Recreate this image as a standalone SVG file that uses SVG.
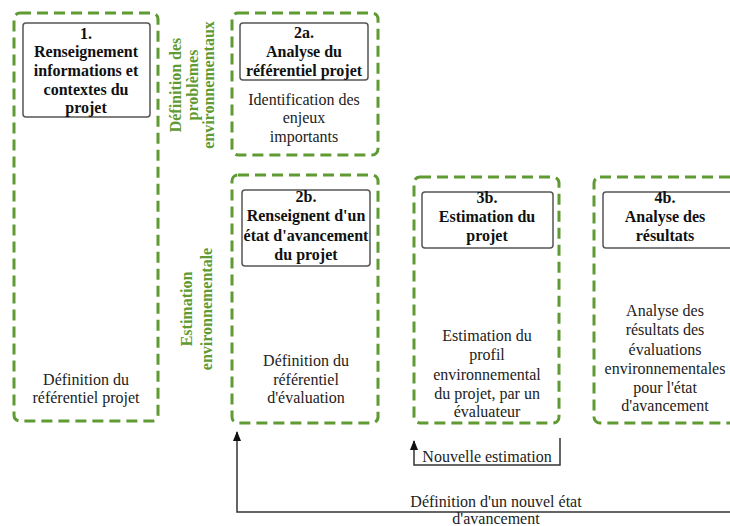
<svg xmlns="http://www.w3.org/2000/svg" width="730" height="526" viewBox="0 0 730 526">
<defs>
<marker id="arr" markerWidth="10" markerHeight="8" refX="9" refY="4" orient="auto" markerUnits="userSpaceOnUse" viewBox="0 0 10 8">
<path d="M0,0 L10,4 L0,8 Z" fill="#111"/>
</marker>
</defs>
<style>
.outer{fill:#fff;stroke:#5f9a32;stroke-width:3;stroke-dasharray:11 6}
.inner{fill:#fff;stroke:#555;stroke-width:1.5}
text{font-family:'Liberation Serif','DejaVu Serif',serif}
.t{font-size:16px;text-anchor:middle;fill:#222}
.b{font-weight:bold;fill:#111}
.g{font-size:16px;font-weight:bold;text-anchor:middle;fill:#5f9a32}
.c{fill:none;stroke:#333;stroke-width:1.5}
</style>
<rect width="730" height="526" fill="#fff"/>

<g id="n1">
<rect class="outer" x="14" y="13" width="144" height="408" rx="6"/>
<rect class="inner" x="23" y="23" width="127" height="94" rx="3"/>
<text class="t b" x="86" y="39">1.</text>
<text class="t b" x="86" y="57">Renseignement</text>
<text class="t b" x="86" y="76">informations et</text>
<text class="t b" x="86" y="95">contextes du</text>
<text class="t b" x="86" y="113">projet</text>
<text class="t" x="86" y="385">Définition du</text>
<text class="t" x="86" y="403">référentiel projet</text>
</g>

<g id="lbl-def">
<text class="g" transform="translate(181,85) rotate(-90)">Définition des</text>
<text class="g" transform="translate(198,85) rotate(-90)">problèmes</text>
<text class="g" transform="translate(214,85) rotate(-90)">environnementaux</text>
</g>

<g id="lbl-est">
<text class="g" transform="translate(192,309) rotate(-90)">Estimation</text>
<text class="g" transform="translate(212,309) rotate(-90)">environnementale</text>
</g>

<g id="n2a">
<rect class="outer" x="232" y="13" width="146" height="142" rx="6"/>
<rect class="inner" x="240" y="23" width="128" height="57" rx="3"/>
<text class="t b" x="304" y="38">2a.</text>
<text class="t b" x="304" y="57">Analyse du</text>
<text class="t b" x="304" y="76">référentiel projet</text>
<text class="t" x="304" y="105">Identification des</text>
<text class="t" x="304" y="123">enjeux</text>
<text class="t" x="304" y="142">importants</text>
</g>

<g id="n2b">
<rect class="outer" x="232" y="175" width="146" height="248" rx="6"/>
<rect class="inner" x="242" y="190" width="128" height="76" rx="3"/>
<text class="t b" x="306" y="202">2b.</text>
<text class="t b" x="306" y="221">Renseignent d'un</text>
<text class="t b" x="306" y="241">état d'avancement</text>
<text class="t b" x="306" y="260">du projet</text>
<text class="t" x="306" y="366">Définition du</text>
<text class="t" x="306" y="385">référentiel</text>
<text class="t" x="306" y="403">d'évaluation</text>
</g>

<g id="n3b">
<rect class="outer" x="414" y="177" width="145" height="246" rx="6"/>
<rect class="inner" x="422" y="192" width="131" height="56" rx="3"/>
<text class="t b" x="487" y="203">3b.</text>
<text class="t b" x="487" y="222">Estimation du</text>
<text class="t b" x="487" y="241">projet</text>
<text class="t" x="487" y="341">Estimation du</text>
<text class="t" x="487" y="360">profil</text>
<text class="t" x="487" y="380">environnemental</text>
<text class="t" x="487" y="399">du projet, par un</text>
<text class="t" x="487" y="417">évaluateur</text>
</g>

<g id="n4b">
<rect class="outer" x="594" y="177" width="150" height="246" rx="6"/>
<rect class="inner" x="603" y="192" width="140" height="56" rx="3"/>
<text class="t b" x="665" y="203">4b.</text>
<text class="t b" x="665" y="222">Analyse des</text>
<text class="t b" x="665" y="241">résultats</text>
<text class="t" x="665" y="316">Analyse des</text>
<text class="t" x="665" y="335">résultats des</text>
<text class="t" x="665" y="355">évaluations</text>
<text class="t" x="665" y="374">environnementales</text>
<text class="t" x="665" y="393">pour l'état</text>
<text class="t" x="665" y="411">d'avancement</text>
</g>

<g id="connectors">
<path class="c" d="M560,438 V465 H414 V441" marker-end="url(#arr)"/>
<text class="t" x="487" y="462">Nouvelle estimation</text>
<path class="c" d="M730,512 H237 V432" marker-end="url(#arr)"/>
<text class="t" x="496" y="507">Définition d'un nouvel état</text>
<text class="t" x="496" y="524">d'avancement</text>
</g>
</svg>
